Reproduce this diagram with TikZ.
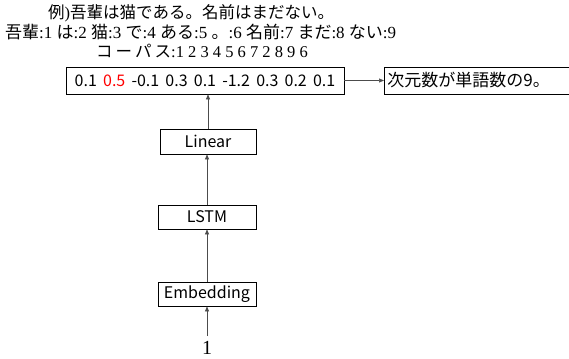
\documentclass[tikz,border=0pt]{standalone}
\usepackage{fontspec}
\setmainfont{Liberation Serif}
\newfontfamily\jpfont{Noto Sans CJK JP}
\newcommand\J[1]{{\jpfont #1}}
\usetikzlibrary{arrows.meta}
\begin{document}
\begin{tikzpicture}[x=1pt,y=-1pt,
  box/.style={draw, line width=0.8pt, inner sep=0pt, font=\jpfont\fontsize{16}{16}\selectfont},
  arr/.style={-{Triangle[length=5pt,width=4pt]}, draw=black!70, line width=0.6pt},
  top/.style={anchor=west, inner sep=0pt}]
\useasboundingbox (0,0) rectangle (569,358);
\node[top, font=\fontsize{16.5}{16.5}\selectfont] (l1) at (48,13) {\J{例})\J{吾輩は猫である。名前はまだない。}};
\node[top, font=\fontsize{17}{17}\selectfont] (l2) at (5,32) {\J{吾輩}:1 \J{は}:2 \J{猫}:3 \J{で}:4 \J{ある}:5 \J{。}:6 \J{名前}:7 \J{まだ}:8 \J{ない}:9};
\node[top, font=\fontsize{16.5}{16.5}\selectfont] (l3) at (96,51) {\J{コ\hspace{3pt}ー\hspace{3pt}パ\hspace{3pt}ス}:1 2 3 4 5 6 7 2 8 9 6};
\node[box, minimum width=278pt, minimum height=27pt] (vec) at (205,80.5) {\spaceskip=6.2pt\relax 0.1 \textcolor{red}{0.5} -0.1 0.3 0.1 -1.2 0.3 0.2 0.1};
\node[box, anchor=west, minimum height=27pt, inner xsep=3pt, text width=200pt, align=left, font=\jpfont\fontsize{17}{17}\selectfont] (dim) at (384,80.5) {次元数が単語数の9。};
\node[box, minimum width=96pt, minimum height=25pt] (lin) at (208,141.5) {Linear};
\node[box, minimum width=98pt, minimum height=24pt] (lstm) at (207,217) {LSTM};
\node[box, minimum width=98pt, minimum height=24pt] (emb) at (207,294) {Embedding};
\node[inner sep=0pt, font=\fontsize{20}{20}\selectfont] (one) at (207,348) {1};
\draw[arr] ([yshift=5pt]one.north) -- (emb.south);
\draw[arr] (emb.north) -- (lstm.south);
\draw[arr] (lstm.north) -- (lstm.north |- lin.south);
\draw[arr] (lin.north) -- (lin.north |- vec.south);
\draw[arr] (vec.east) -- (dim.west);
\end{tikzpicture}
\end{document}
